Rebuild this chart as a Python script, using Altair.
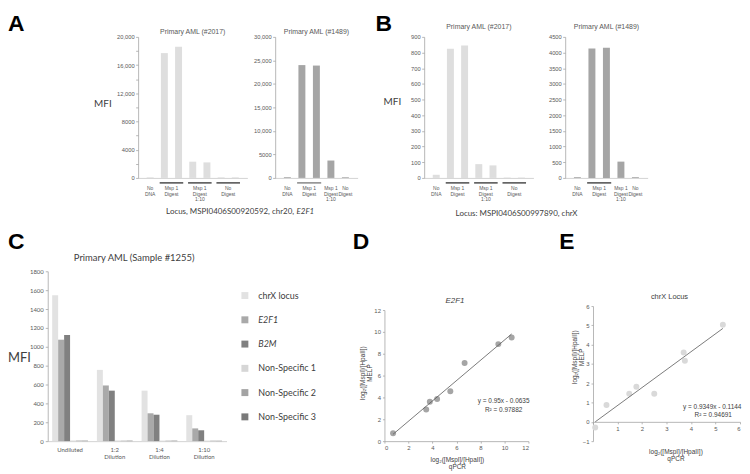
import altair as alt
import pandas as pd

# ---------------- Panels A / B : bar values ----------------
ab_groups = ["No\nDNA", "Msp 1\nDigest", "Msp 1\nDigest\n1:10", "No\nDigest"]
a1_values = [[90], [17700, 18600], [2300, 2200], [90, 90]]
a2_values = [[150], [24000, 23900], [3700], [150]]
b1_values = [[20], [825, 845], [88, 80], [3, 3]]
b2_values = [[25], [4130, 4150], [520], [25]]
sample_titles = ["Primary AML (#2017)", "Primary AML (#1489)"]
a_caption = ["Locus, MSPI0406S00920592, chr20,", "E2F1"]
b_caption = "Locus: MSPI0406S00997890, chrX"
mfi_label = "MFI"
panel_letters = ["A", "B", "C", "D", "E"]

# ---------------- Panel C ----------------
c_title = "Primary AML (Sample #1255)"
c_groups = ["Undiluted", "1:2 Dilution", "1:4 Dilution", "1:10 Dilution"]
c_series = ["chrX locus", "E2F1", "B2M", "Non-Specific 1", "Non-Specific 2", "Non-Specific 3"]
c_series_italic = [False, True, True, False, False, False]
c_chrx = [1545, 755, 535, 275]
c_e2f1 = [1075, 590, 295, 135]
c_b2m = [1125, 535, 280, 115]
c_ns1 = [6, 6, 5, 5]
c_ns2 = [6, 5, 5, 5]
c_ns3 = [5, 5, 5, 4]

# ---------------- Panel D ----------------
d_title = "E2F1"
d_qpcr = [0.72, 3.48, 3.78, 4.39, 5.49, 6.68, 9.49, 10.6]
d_melp = [0.73, 2.9, 3.6, 3.85, 4.57, 7.15, 8.88, 9.48]
d_equation = ["y = 0.95x - 0.0635", "R² = 0.97882"]

# ---------------- Panel E ----------------
e_title = "chrX Locus"
e_qpcr = [0.09, 0.55, 1.48, 1.77, 2.5, 3.7, 3.75, 5.3]
e_melp = [-0.29, 0.87, 1.46, 1.82, 1.46, 3.59, 3.17, 5.03]
e_equation = ["y = 0.9349x - 0.1144", "R² = 0.94691"]

x_title = ["log₂([MspI]/[HpaII])", "qPCR"]
y_title = ["log₂([MspI]/[HpaII])", "MELP"]

# ---------------- styles / layout ----------------
FONT = "Lato"
SMALL = "Liberation Sans"
DARK = "#404040"
MID = "#595959"
AXIS = "#a6a6a6"
LIGHT_BAR = "#dedede"
DARK_BAR = "#a5a5a5"
c_colors = ["#e2e2e2", "#a9a9a9", "#808080", "#d6d6d6", "#a3a3a3", "#7a7a7a"]
PH_TOP = 142
PH_BOT = 171
COL_W = [180, 159, 182, 176]          # shared column widths of the two rows


def txt(s, x, y, size, color=DARK, font=FONT, align="center", baseline="middle",
        weight="normal", style="normal"):
    return alt.Chart(pd.DataFrame({"t": [s]})).mark_text(
        align=align, baseline=baseline, fontSize=size, font=font, color=color,
        fontWeight=weight, fontStyle=style
    ).encode(x=alt.value(x), y=alt.value(y), text="t:N")


def letter(s, x, y):
    return txt(s, x, y, 23, color="#000000", font=SMALL, align="left",
               baseline="top", weight="bold")


def bar_panel(values, title, ymax, ystep, lstep, color, ulcolor, ox, plot_w, view_w,
              title_y, extras=()):
    rows = []
    for g, vals in zip(ab_groups, values):
        for v in vals:
            rows.append({"group": g, "pos": len(rows), "value": v})
    df = pd.DataFrame(rows)
    n = len(df)
    xs = alt.Scale(domain=[-0.5, n - 0.5], range=[ox, ox + plot_w], nice=False, zero=False)
    xa = alt.Axis(labels=False, ticks=False, title=None, domainColor="#c8c8c8")
    yexpr = (f"datum.value % {lstep} == 0 ? (datum.value >= 10000 ? "
             f"format(datum.value, ',') : format(datum.value, 'd')) : ''")
    ya = alt.Axis(values=list(range(0, ymax + 1, ystep)), labelExpr=yexpr, title=None,
                  labelFontSize=5.8, tickSize=2.5, labelPadding=1.5, offset=-ox)
    base = alt.Chart(df)
    bars = base.mark_bar(size=7, color=color).encode(
        x=alt.X("pos:Q", scale=xs, axis=xa),
        y=alt.Y("value:Q", scale=alt.Scale(domain=[0, ymax], nice=False), axis=ya))
    agg = base.transform_aggregate(center="mean(pos)", lo="min(pos)", hi="max(pos)",
                                   n="count()", groupby=["group"])
    under = agg.transform_filter("datum.n > 1").transform_calculate(
        x1="datum.lo - 0.33", x2="datum.hi + 0.33"
    ).mark_rule(color=ulcolor, strokeWidth=1.4).encode(
        x=alt.X("x1:Q", scale=xs, axis=xa), x2="x2:Q", y=alt.value(PH_TOP + 5))
    labs = agg.mark_text(font=SMALL, fontSize=5, lineHeight=5.5, lineBreak="\n",
                         baseline="top", color=MID).encode(
        x=alt.X("center:Q", scale=xs, axis=xa), y=alt.value(PH_TOP + 8.5),
        text="group:N")
    head = txt(title, ox + plot_w / 2, title_y, 7, color=MID, font=SMALL)
    return alt.layer(bars, under, labs, head, *extras).properties(
        width=view_w, height=PH_TOP)


# ---------------- top row ----------------
a1 = bar_panel(a1_values, sample_titles[0], 20000, 2000, 4000, LIGHT_BAR, DARK,
               91, 110, COL_W[0], -5,
               extras=[letter(panel_letters[0], -40, -23.5),
                       txt(mfi_label, 55.5, 67.5, 10),
                       txt(a_caption[0], 248, 176, 8, align="right"),
                       txt(a_caption[1], 250.5, 176, 8, align="left", style="italic")])
a2 = bar_panel(a2_values, sample_titles[1], 30000, 5000, 5000, DARK_BAR, "#7f7f7f",
               49, 83, COL_W[1], -5)
b1 = bar_panel(b1_values, sample_titles[0], 900, 100, 100, LIGHT_BAR, DARK,
               40, 110, COL_W[2], -10,
               extras=[letter(panel_letters[1], -9, -23.5),
                       txt(mfi_label, 8, 66, 10),
                       txt(b_caption, 133, 178, 8)])
b2 = bar_panel(b2_values, sample_titles[1], 4500, 500, 500, DARK_BAR, DARK,
               0, 83, COL_W[3], -10)

# ---------------- panel C ----------------
c_vals = [c_chrx, c_e2f1, c_b2m, c_ns1, c_ns2, c_ns3]
c_df = pd.DataFrame([{"group": g, "series": s, "value": v}
                     for s, vals in zip(c_series, c_vals)
                     for g, v in zip(c_groups, vals)])
color_scale = alt.Scale(domain=c_series, range=c_colors)
c_bars = alt.Chart(c_df).mark_bar().encode(
    x=alt.X("group:N", sort=c_groups,
            scale=alt.Scale(paddingInner=0.2, paddingOuter=0.1),
            axis=alt.Axis(title=None, labelAngle=0, ticks=False,
                          labelExpr="split(datum.label, ' ')", labelFont=FONT,
                          labelFontSize=6, labelLineHeight=7.5, labelPadding=5,
                          labelOverlap=False, domainColor="#c8c8c8")),
    xOffset=alt.XOffset("series:N", sort=c_series,
                        scale=alt.Scale(paddingInner=0, paddingOuter=0)),
    y=alt.Y("value:Q", scale=alt.Scale(domain=[0, 1800], nice=False),
            axis=alt.Axis(values=list(range(0, 1801, 200)), format="d", title=None,
                          labelFont=FONT, labelFontSize=6, tickSize=2.5,
                          labelPadding=2)),
    color=alt.Color("series:N", scale=color_scale, legend=None),
)
c_chart = alt.layer(
    c_bars,
    txt(c_title, 87, -13, 9.5),
    txt(mfi_label, -40, 87, 13, align="left"),
    letter(panel_letters[2], -40, -40),
).properties(width=COL_W[0], height=PH_BOT)

# ---------------- legend of C ----------------
leg_df = pd.DataFrame({"series": c_series, "italic": c_series_italic})
ly = alt.Y("series:N", sort=c_series, scale=alt.Scale(type="point", padding=1.905),
           axis=None)
leg_sw = alt.Chart(leg_df).mark_square(size=49, opacity=1).encode(
    x=alt.value(18.5), y=ly,
    color=alt.Color("series:N", scale=color_scale, legend=None))
leg_reg = alt.Chart(leg_df).transform_filter("!datum.italic").mark_text(
    align="left", fontSize=9, font=FONT, color=DARK).encode(
    x=alt.value(32), y=ly, text="series:N")
leg_it = alt.Chart(leg_df).transform_filter("datum.italic").mark_text(
    align="left", fontSize=9, font=FONT, color=DARK, fontStyle="italic").encode(
    x=alt.value(32), y=ly, text="series:N")
leg = alt.layer(leg_sw, leg_reg, leg_it).properties(width=COL_W[1], height=PH_BOT)


# ---------------- scatter panels D / E ----------------
def scatter(xs_, ys_, xdom, xvals, xrange_, ydom, yvals, yrange_, pcolor,
            xlabexpr=None, xoffset=0, yoffset=0, xtx=0, xty=0, ytx=0, yty=0):
    df = pd.DataFrame({"x": xs_, "y": ys_})
    xa_kw = dict(values=xvals, title=x_title, titleX=xtx, titleY=xty,
                 titleAlign="center", titleBaseline="top", titleFontSize=6.5,
                 titleLineHeight=7.5, labelFontSize=6, tickSize=2, labelPadding=1.5,
                 offset=xoffset)
    if xlabexpr:
        xa_kw["labelExpr"] = xlabexpr
    ex = alt.X("x:Q", scale=alt.Scale(domain=xdom, range=xrange_, nice=False, zero=False),
               axis=alt.Axis(**xa_kw))
    ey = alt.Y("y:Q", scale=alt.Scale(domain=ydom, range=yrange_, nice=False, zero=False),
               axis=alt.Axis(values=yvals, title=y_title, titleX=ytx, titleY=yty,
                             titleAlign="center", titleBaseline="bottom",
                             titleFontSize=6.5, titleLineHeight=7, labelFontSize=6,
                             tickSize=2, labelPadding=2, offset=yoffset))
    pts = alt.Chart(df).mark_circle(size=36, color=pcolor, opacity=1).encode(x=ex, y=ey)
    line = alt.Chart(df).transform_regression("x", "y").mark_line(
        color=MID, strokeWidth=0.8).encode(x=ex, y=ey)
    return pts, line


d_pts, d_line = scatter(d_qpcr, d_melp, [0, 12], list(range(0, 13, 2)), [0, 145],
                        [0, 12], list(range(0, 13, 2)), [PH_BOT, 39], "#a5a5a5",
                        xtx=73, xty=15.5, ytx=-19, yty=102)
d_chart = alt.layer(
    d_pts, d_line,
    txt(d_title, 71, 30, 8, font=SMALL, style="italic"),
    txt(d_equation[0], 120, 131, 6.5, font=SMALL),
    txt(d_equation[1], 120, 140, 6.5, font=SMALL),
    letter(panel_letters[3], -32, -40),
).properties(width=COL_W[2], height=PH_BOT)

E_TOP = 35
E_OX = 28
e_zero = E_TOP + (6 - 0) / 7 * (PH_BOT - E_TOP)
e_pts, e_line = scatter(e_qpcr, e_melp, [0, 6], list(range(0, 7)), [E_OX, COL_W[3]],
                        [-1, 6], list(range(-1, 7)), [PH_BOT, E_TOP], "#d9d9d9",
                        xlabexpr="datum.value == 0 ? '' : datum.label",
                        xoffset=-(PH_BOT - e_zero), yoffset=-E_OX,
                        xtx=111, xty=26.5, ytx=-16, yty=86)
e_chart = alt.layer(
    e_pts, e_line,
    txt(e_title, 105, 26, 7.5, font=SMALL),
    txt(e_equation[0], 148, 137, 6.5, font=SMALL),
    txt(e_equation[1], 149, 145, 6.5, font=SMALL),
    letter(panel_letters[4], -6, -40),
).properties(width=COL_W[3], height=PH_BOT)

chart = alt.concat(
    a1, a2, b1, b2, c_chart, leg, d_chart, e_chart,
    columns=4, spacing={"row": 94, "column": 0}, bounds="flush",
    padding={"left": 0, "top": 3.5, "right": 0, "bottom": 0},
).configure_view(stroke=None).configure_axis(
    grid=False, domainColor=AXIS, tickColor=AXIS, labelColor=MID, labelFont=SMALL,
    titleFont=SMALL, titleColor=DARK, titleFontWeight="normal", domainWidth=0.8,
    tickWidth=0.8,
)

chart.save("out.html", embed_options={"renderer": "svg", "actions": False})
